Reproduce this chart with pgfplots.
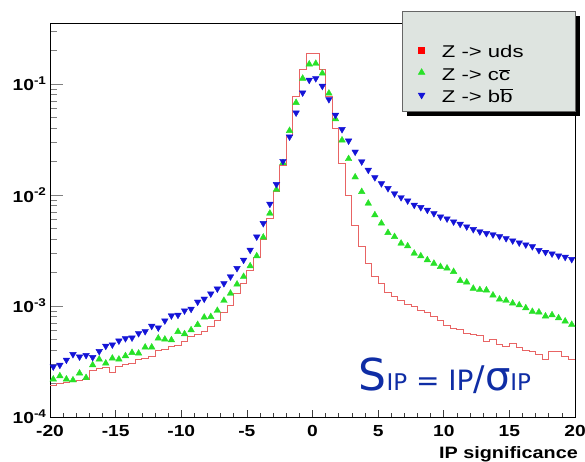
\documentclass[border=0pt]{standalone}
\usepackage{fontspec}
\setmainfont{Liberation Sans}
\newfontfamily\tickfont[FakeStretch=1.2]{Liberation Sans}
\newfontfamily\legfont[FakeStretch=1.3]{Liberation Sans}
\newfontfamily\sipfont{DejaVu Sans}
\usepackage{pgfplots}
\usepackage{pgfplotstable}
\pgfplotsset{compat=1.18}
\usetikzlibrary{shadows}

\definecolor{udsred}{RGB}{232,100,100}
\definecolor{ccgreen}{RGB}{40,225,40}
\definecolor{bbblue}{RGB}{20,20,215}
\definecolor{legfill}{RGB}{222,228,224}
\definecolor{sipblue}{RGB}{15,45,165}

% Z -> uds : histogram, value per bin given at the left bin edge
\pgfplotstableread{
x y
-20 1.94e-4
-19.5 2.00e-4
-19 2.05e-4
-18.5 2.10e-4
-18 2.15e-4
-17.5 2.20e-4
-17 2.65e-4
-16.5 2.75e-4
-16 2.80e-4
-15.5 2.50e-4
-15 2.84e-4
-14.5 2.95e-4
-14 3.05e-4
-13.5 3.30e-4
-13 3.40e-4
-12.5 3.50e-4
-12 4.00e-4
-11.5 4.10e-4
-11 4.30e-4
-10.5 4.45e-4
-10 4.80e-4
-9.5 5.30e-4
-9 5.50e-4
-8.5 5.90e-4
-8 6.60e-4
-7.5 7.40e-4
-7 8.70e-4
-6.5 1.02e-3
-6 1.30e-3
-5.5 1.60e-3
-5 2.10e-3
-4.5 2.75e-3
-4 4.00e-3
-3.5 6.20e-3
-3 1.07e-2
-2.5 1.86e-2
-2 3.47e-2
-1.5 7.69e-2
-1 1.355e-1
-0.5 1.89e-1
0 1.89e-1
0.5 1.355e-1
1 7.69e-2
1.5 4.00e-2
2 1.93e-2
2.5 1.00e-2
3 5.37e-3
3.5 3.42e-3
4 2.43e-3
4.5 1.84e-3
5 1.60e-3
5.5 1.34e-3
6 1.21e-3
6.5 1.13e-3
7 1.04e-3
7.5 9.9e-4
8 9.2e-4
8.5 8.7e-4
9 8.0e-4
9.5 7.4e-4
10 6.7e-4
10.5 6.3e-4
11 6.1e-4
11.5 5.7e-4
12 5.5e-4
12.5 5.4e-4
13 4.8e-4
13.5 5.0e-4
14 4.5e-4
14.5 4.3e-4
15 4.6e-4
15.5 4.2e-4
16 4.0e-4
16.5 3.9e-4
17 3.7e-4
17.5 3.3e-4
18 3.9e-4
18.5 3.9e-4
19 3.5e-4
19.5 3.3e-4
20 3.3e-4
}\udstable

% Z -> c cbar : bin centres
\pgfplotstableread{
x y
-19.75 2.19e-4
-19.25 2.34e-4
-18.75 2.19e-4
-18.25 2.15e-4
-17.75 2.48e-4
-17.25 2.26e-4
-16.75 2.94e-4
-16.25 3.31e-4
-15.75 3.05e-4
-15.25 3.38e-4
-14.75 3.31e-4
-14.25 3.55e-4
-13.75 3.80e-4
-13.25 3.75e-4
-12.75 4.25e-4
-12.25 4.25e-4
-11.75 5.12e-4
-11.25 5.01e-4
-10.75 4.94e-4
-10.25 5.87e-4
-9.75 5.60e-4
-9.25 6.08e-4
-8.75 6.79e-4
-8.25 7.91e-4
-7.75 8.00e-4
-7.25 9.10e-4
-6.75 1.12e-3
-6.25 1.30e-3
-5.75 1.57e-3
-5.25 1.84e-3
-4.75 2.29e-3
-4.25 2.82e-3
-3.75 4.16e-3
-3.25 6.84e-3
-2.75 1.12e-2
-2.25 1.95e-2
-1.75 3.80e-2
-1.25 6.80e-2
-0.75 1.124e-1
-0.25 1.51e-1
0.25 1.53e-1
0.75 1.25e-1
1.25 8.25e-2
1.75 4.85e-2
2.25 3.12e-2
2.75 2.12e-2
3.25 1.45e-2
3.75 1.07e-2
4.25 8.41e-3
4.75 6.61e-3
5.25 5.56e-3
5.75 4.57e-3
6.25 4.21e-3
6.75 3.67e-3
7.25 3.47e-3
7.75 2.98e-3
8.25 2.82e-3
8.75 2.60e-3
9.25 2.42e-3
9.75 2.26e-3
10.25 2.19e-3
10.75 2.04e-3
11.25 1.69e-3
11.75 1.64e-3
12.25 1.44e-3
12.75 1.40e-3
13.25 1.39e-3
13.75 1.25e-3
14.25 1.15e-3
14.75 1.12e-3
15.25 1.06e-3
15.75 1.02e-3
16.25 9.6e-4
16.75 8.9e-4
17.25 8.8e-4
17.75 8.1e-4
18.25 8.3e-4
18.75 7.8e-4
19.25 7.3e-4
19.75 6.8e-4
}\cctable

% Z -> b bbar : bin centres
\pgfplotstableread{
x y
-19.75 2.84e-4
-19.25 2.94e-4
-18.75 3.27e-4
-18.25 3.67e-4
-17.75 3.49e-4
-17.25 3.60e-4
-16.75 3.45e-4
-16.25 3.91e-4
-15.75 4.36e-4
-15.25 4.48e-4
-14.75 4.86e-4
-14.25 5.11e-4
-13.75 5.18e-4
-13.25 5.67e-4
-12.75 5.91e-4
-12.25 6.60e-4
-11.75 6.38e-4
-11.25 7.38e-4
-10.75 8.19e-4
-10.25 8.30e-4
-9.75 9.08e-4
-9.25 9.40e-4
-8.75 1.09e-3
-8.25 1.16e-3
-7.75 1.29e-3
-7.25 1.43e-3
-6.75 1.60e-3
-6.25 1.84e-3
-5.75 2.19e-3
-5.25 2.60e-3
-4.75 3.20e-3
-4.25 4.21e-3
-3.75 5.56e-3
-3.25 8.30e-3
-2.75 1.25e-2
-2.25 2.02e-2
-1.75 3.35e-2
-1.25 5.51e-2
-0.75 8.35e-2
-0.25 1.087e-1
0.25 1.125e-1
0.75 9.59e-2
1.25 7.28e-2
1.75 5.26e-2
2.25 3.91e-2
2.75 3.08e-2
3.25 2.45e-2
3.75 2.00e-2
4.25 1.68e-2
4.75 1.44e-2
5.25 1.27e-2
5.75 1.15e-2
6.25 1.03e-2
6.75 9.52e-3
7.25 8.89e-3
7.75 8.13e-3
8.25 7.75e-3
8.75 7.33e-3
9.25 6.84e-3
9.75 6.38e-3
10.25 6.12e-3
10.75 5.75e-3
11.25 5.48e-3
11.75 5.19e-3
12.25 4.91e-3
12.75 4.68e-3
13.25 4.52e-3
13.75 4.40e-3
14.25 4.24e-3
14.75 4.07e-3
15.25 3.88e-3
15.75 3.72e-3
16.25 3.57e-3
16.75 3.44e-3
17.25 3.18e-3
17.75 3.06e-3
18.25 2.96e-3
18.75 2.84e-3
19.25 2.76e-3
19.75 2.64e-3
}\bbtable

\newcommand\lstrut{\rule[-9.5pt]{0pt}{26.5pt}}

\begin{document}
\begin{tikzpicture}
\useasboundingbox (-50pt,-45pt) rectangle (535pt,417pt);
\begin{axis}[
  at={(0,0)}, anchor=south west,
  scale only axis, width=525pt, height=394pt,
  xmin=-20, xmax=20,
  ymode=log, ymin=1e-4, ymax=0.355,
  xtick={-20,-15,...,20},
  xticklabels={-20,-15,-10,-5,0,5,10,15,20},
  minor x tick num=4,
  ytick={1e-4,1e-3,1e-2,1e-1},
  yticklabels={10\textsuperscript{-4},10\textsuperscript{-3},10\textsuperscript{-2},10\textsuperscript{-1}},
  minor ytick={2e-4,3e-4,4e-4,5e-4,6e-4,7e-4,8e-4,9e-4,
               2e-3,3e-3,4e-3,5e-3,6e-3,7e-3,8e-3,9e-3,
               2e-2,3e-2,4e-2,5e-2,6e-2,7e-2,8e-2,9e-2,
               2e-1,3e-1},
  tick pos=left, tick align=inside,
  major tick length=13pt, minor tick length=7pt,
  ytick style={gray, line width=0.7pt},
  xtick style={black!75, line width=0.7pt, /pgfplots/major tick length=7pt, /pgfplots/minor tick length=4pt},
  axis line style={black, line width=0.9pt},
  ticklabel style={font=\tickfont\bfseries\fontsize{16}{16}\selectfont},
  xticklabel style={yshift=-5pt},
  xlabel={IP significance},
  x label style={at={(axis description cs:1,0)}, anchor=north east,
    yshift=-29pt, xshift=3pt, inner sep=0pt,
    font=\tickfont\bfseries\fontsize{16.5}{16.5}\selectfont},
  legend image code/.code={
    \path (0pt,0pt) (22pt,0pt);
    \draw[#1] plot coordinates {(10pt,0pt)};
  },
  legend style={
    at={(0.6705,1.0305)}, anchor=north west,
    draw=black!60, fill=legfill, line width=0.6pt,
    drop shadow={shadow xshift=5pt, shadow yshift=-5pt, fill=black, opacity=1},
    inner xsep=9pt, inner ysep=5pt,
    column sep=6pt, row sep=0pt,
    font=\legfont\fontsize{17}{17}\selectfont,
  },
  legend cell align=left,
]
\addlegendimage{empty legend}
\addplot[const plot, udsred, line width=0.8pt, forget plot] table {\udstable};
\addlegendimage{only marks, mark=square*, red, mark size=3pt}
\addplot[only marks, mark=triangle*, mark size=3.8pt, color=ccgreen, fill=ccgreen] table {\cctable};
\addplot[only marks, mark=triangle*, mark size=3.8pt, color=bbblue, fill=bbblue, mark options={rotate=180}] table {\bbtable};
\legend{{\lstrut},
  {\makebox[122pt][l]{\lstrut Z -> uds}},
  {\makebox[122pt][l]{\lstrut Z -> c$\overline{\mbox{c}}$}},
  {\makebox[122pt][l]{\lstrut Z -> b$\overline{\mbox{b}}$}}}

\node[text=sipblue, anchor=base west, inner sep=0pt] at (axis cs:3.5,1.75e-4)
  {\sipfont\fontsize{44}{44}\selectfont S\fontsize{23}{23}\selectfont IP\fontsize{28}{28}\selectfont\ =\ IP\fontsize{34}{34}\selectfont/\fontsize{40}{40}\selectfont σ\fontsize{23}{23}\selectfont IP};
\end{axis}
\end{tikzpicture}
\end{document}
